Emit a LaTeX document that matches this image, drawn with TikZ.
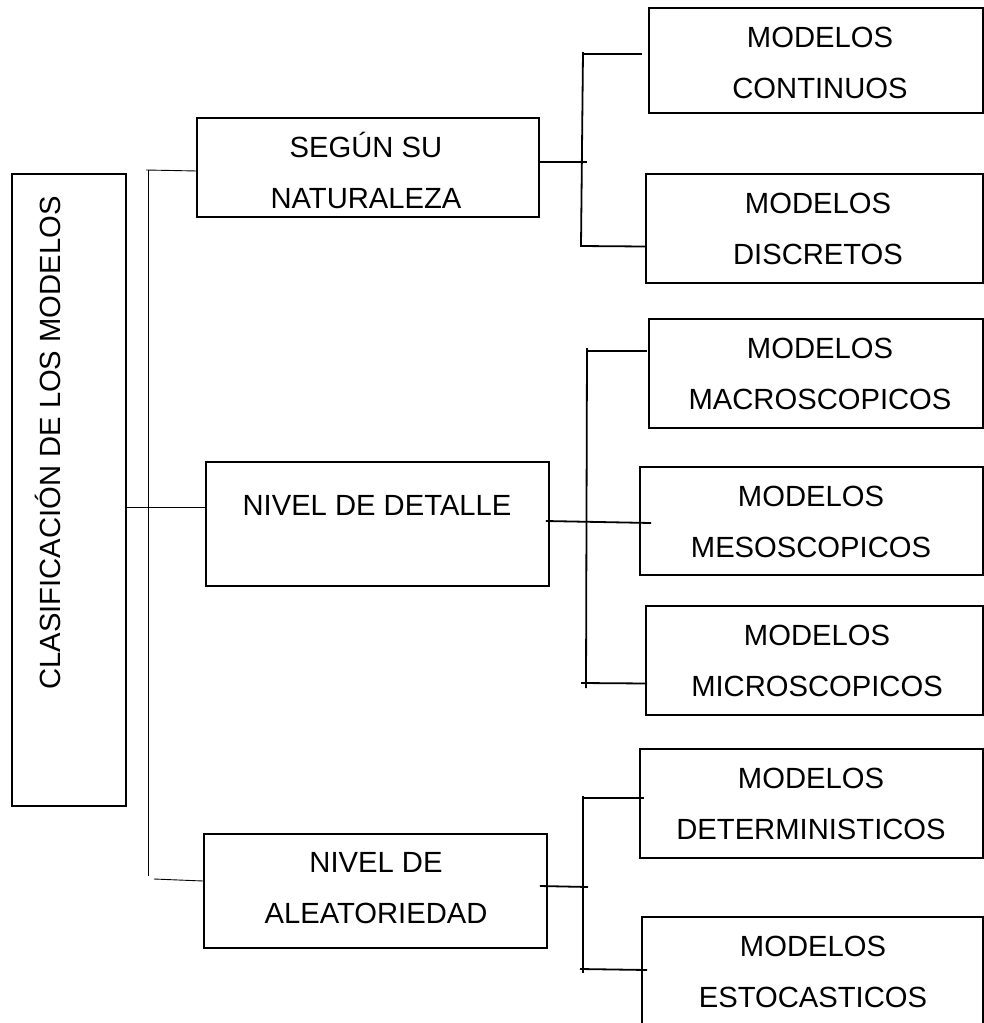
\documentclass[tikz,border=0pt]{standalone}
\usepackage{fontspec}
\setmainfont{Liberation Sans}
\begin{document}
\begin{tikzpicture}[x=1pt,y=-1pt,
  box/.style={draw,line width=1.8pt,inner sep=0pt,anchor=center},
  lbl/.style={anchor=base,align=center,inner sep=0pt,
    font=\fontsize{29.2}{51}\selectfont},
  thin/.style={line width=0.9pt},
  thick/.style={line width=1.8pt}]
\clip (0,0) rectangle (984,1023);
\fill[white] (0,0) rectangle (984,1023);

% boxes (centre, width, height)
\node[box,minimum width=114pt,minimum height=632pt] (main) at (69,490) {};
\node[box,minimum width=342pt,minimum height=99pt]  (segun) at (368,167.5) {};
\node[box,minimum width=343pt,minimum height=124pt] (detalle) at (377.5,524) {};
\node[box,minimum width=343pt,minimum height=114pt] (aleat) at (375.5,891) {};
\node[box,minimum width=334pt,minimum height=105pt] (cont) at (816,60.5) {};
\node[box,minimum width=337pt,minimum height=109pt] (disc) at (814.5,228.5) {};
\node[box,minimum width=334pt,minimum height=109pt] (macro) at (816,373.5) {};
\node[box,minimum width=343pt,minimum height=108pt] (meso) at (811.5,521) {};
\node[box,minimum width=337pt,minimum height=109pt] (micro) at (814.5,660.5) {};
\node[box,minimum width=343pt,minimum height=109pt] (det) at (811.5,803.5) {};
\node[box,minimum width=341pt,minimum height=113pt] (esto) at (812.5,973.5) {};

% texts (anchored on the baseline of their last line)
\node[lbl,rotate=90] (tmain) at (60,443) {CLASIFICACIÓN DE LOS MODELOS};
\node[lbl] (tsegun) at (366,208) {SEGÚN SU\\NATURALEZA};
\node[lbl] (tdetalle) at (377,515) {NIVEL DE DETALLE};
\node[lbl] (taleat) at (376,923) {NIVEL DE\\ALEATORIEDAD};
\node[lbl] (tcont) at (820,98) {MODELOS\\CONTINUOS};
\node[lbl] (tdisc) at (818,264) {MODELOS\\DISCRETOS};
\node[lbl] (tmacro) at (820,409) {MODELOS\\MACROSCOPICOS};
\node[lbl] (tmeso) at (811,557) {MODELOS\\MESOSCOPICOS};
\node[lbl] (tmicro) at (817,696) {MODELOS\\MICROSCOPICOS};
\node[lbl] (tdet) at (811,839) {MODELOS\\DETERMINISTICOS};
\node[lbl] (testo) at (813,1007) {MODELOS\\ESTOCASTICOS};

% first-level bracket
\coordinate (la) at (148,170);
\coordinate (lb) at (148,876);
\coordinate (lc) at (154,879);
\draw[thin] (la) -- (lb);
\draw[thin] ([xshift=-2pt]la) -- ([yshift=-3.5pt,xshift=1pt]segun.west);
\draw[thin] ([yshift=-17pt]main.east) -- ([yshift=17pt]detalle.west);
\draw[thin] (lc) -- ([yshift=10pt]aleat.west);

% bracket of the first group
\coordinate (sa) at (583,52);
\coordinate (sb) at (581,246);
\draw[thick] (sa) -- (sb);
\draw[thick] ([yshift=5.5pt]segun.east) -- (587,162);
\draw[thick] (583,54) -- ([xshift=-6pt,yshift=6.5pt]cont.west);
\draw[thick] (580,246) -- ([yshift=-18pt]disc.west);

% bracket of the second group
\coordinate (da) at (587,348);
\coordinate (db) at (586,688);
\draw[thick] (da) -- (db);
\draw[thick] ([xshift=-4pt,yshift=3pt]detalle.east) -- ([xshift=12pt,yshift=-2pt]meso.west);
\draw[thick] (587,351) -- ([xshift=-1pt,yshift=22.5pt]macro.west);
\draw[thick] (581,683) -- ([xshift=2pt,yshift=-23pt]micro.west);

% bracket of the third group
\coordinate (aa) at (583,796);
\coordinate (ab) at (583,973);
\draw[thick] (aa) -- (ab);
\draw[thick] ([xshift=-8pt,yshift=5pt]aleat.east) -- (588,887);
\draw[thick] (583,798) -- ([xshift=5pt,yshift=5.5pt]det.west);
\draw[thick] (580,969) -- ([xshift=6pt,yshift=3.5pt]esto.west);
\end{tikzpicture}
\end{document}
